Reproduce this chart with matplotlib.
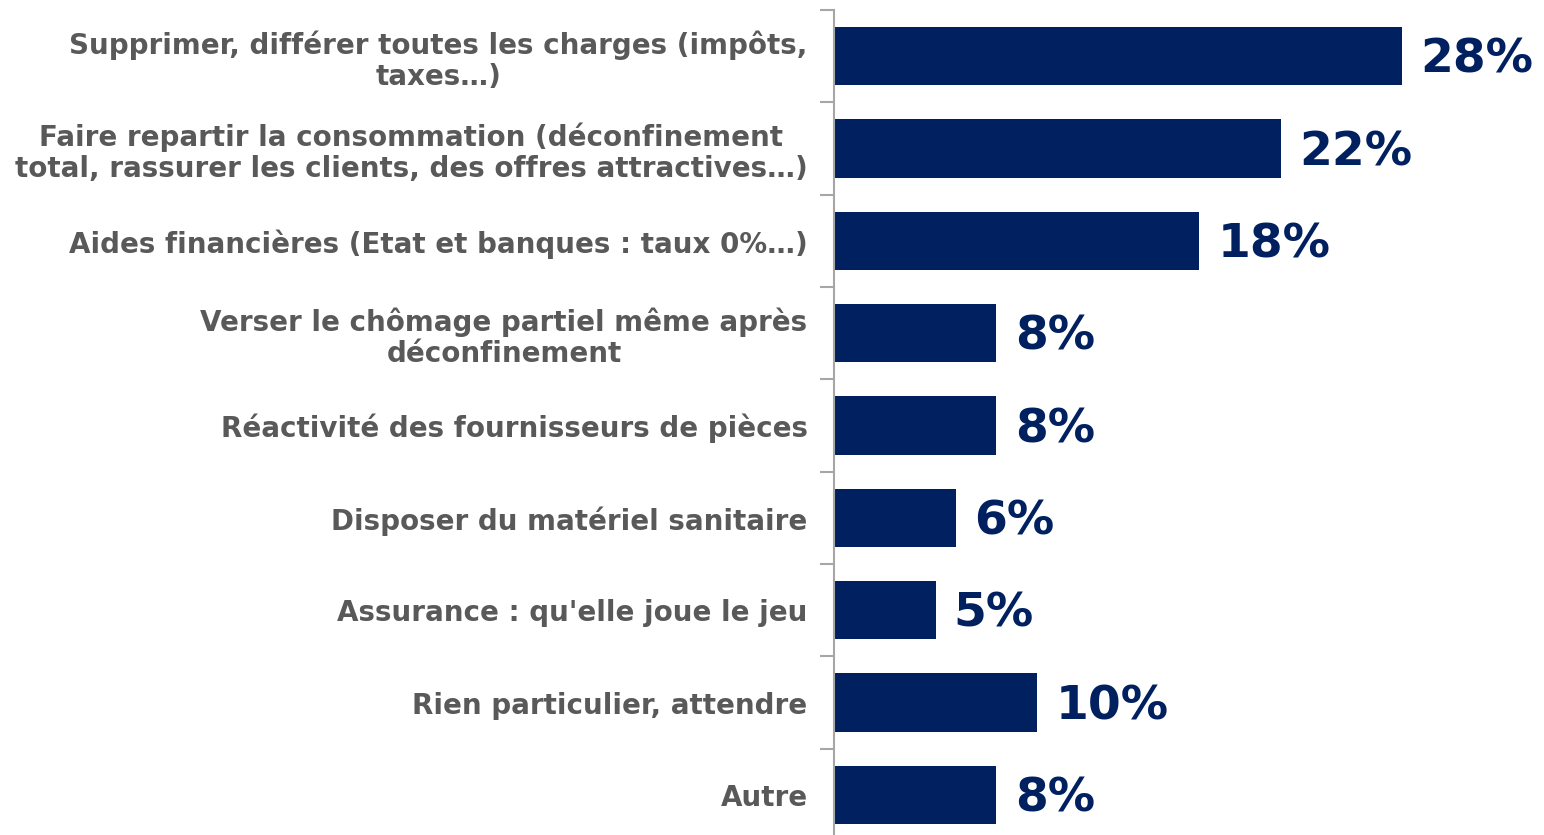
import numpy as np
import matplotlib.pyplot as plt

# --- data ---
categories = [
    "Supprimer, différer toutes les charges (impôts,\ntaxes…)",
    "Faire repartir la consommation (déconfinement\ntotal, rassurer les clients, des offres attractives…)",
    "Aides financières (Etat et banques : taux 0%…)",
    "Verser le chômage partiel même après\ndéconfinement",
    "Réactivité des fournisseurs de pièces",
    "Disposer du matériel sanitaire",
    "Assurance : qu'elle joue le jeu",
    "Rien particulier, attendre",
    "Autre",
]
values = [28, 22, 18, 8, 8, 6, 5, 10, 8]
value_labels = [f"{v}%" for v in values]

navy = "#002060"
grey_text = "#595959"
axis_grey = "#A6A6A6"

W, H = 1544, 835
fig = plt.figure(figsize=(W / 100, H / 100), dpi=100)
ax = fig.add_axes([834 / W, -6 / H, (W - 834) / W, (H - 10 + 6) / H])

y = np.arange(len(categories))
ax.barh(y, values, height=0.63, color=navy, zorder=2)

# value labels, nudged a little down to sit like the original
for yi, v, lab in zip(y, values, value_labels):
    ax.text(v + 0.9, yi + 0.045, lab, va="center", ha="left", fontsize=34,
            fontweight="bold", color=navy)

ax.set_xlim(0, (W - 834) / 20.3)
ax.set_ylim(len(categories) - 0.5, -0.5)

ax.set_yticks(y)
ax.set_yticklabels(categories, fontsize=20, fontweight="bold", color=grey_text)
for t in ax.get_yticklabels():
    t.set_multialignment("center")
    t.set_linespacing(1.12)
ax.tick_params(axis="y", which="major", length=0, pad=19)
ax.set_yticks(np.arange(-0.5, len(categories), 1), minor=True)
ax.tick_params(axis="y", which="minor", length=10, width=1.5, color=axis_grey)

ax.set_xticks([])
for s in ["top", "right", "bottom"]:
    ax.spines[s].set_visible(False)
ax.spines["left"].set_color(axis_grey)
ax.spines["left"].set_linewidth(1.5)

fig.savefig("out.png", dpi=100)
